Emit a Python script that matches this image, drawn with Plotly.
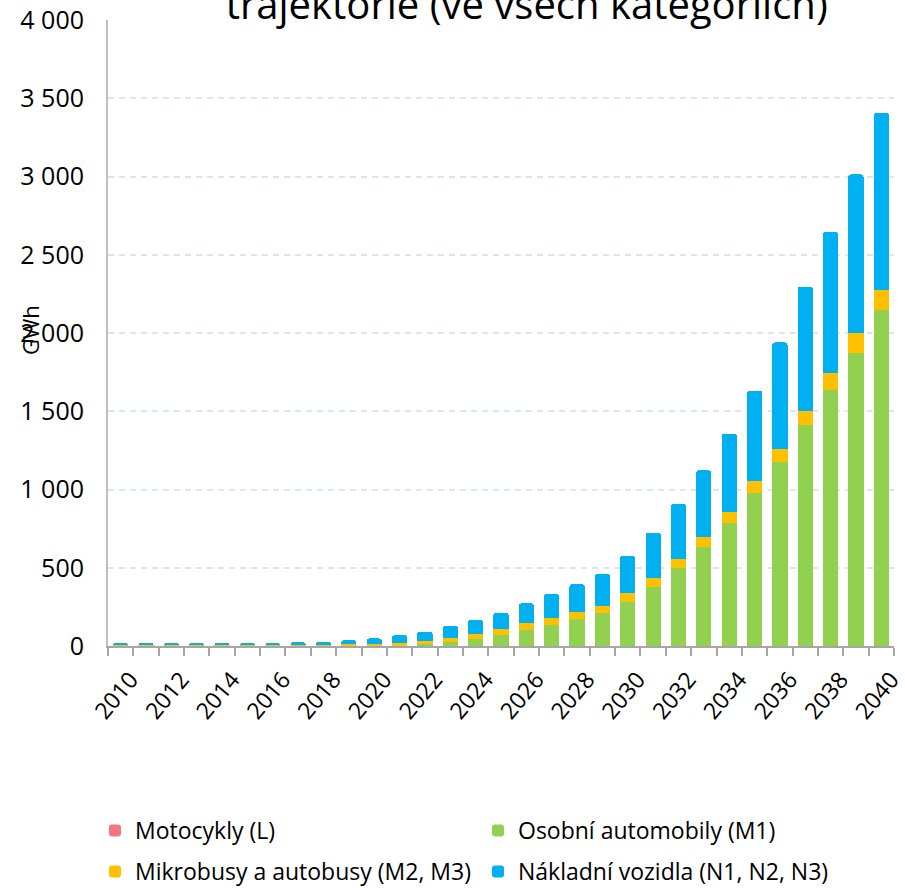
import plotly.graph_objects as go

years = list(range(2010, 2041))

motocykly = [0.1, 0.1, 0.1, 0.1, 0.1, 0.2, 0.2, 0.2, 0.2, 0.3, 0.3, 0.3, 0.4, 0.4, 0.5,
             0.5, 0.6, 0.7, 0.8, 0.9, 1.0, 1.1, 1.2, 1.3, 1.4, 1.5, 1.6, 1.7, 1.8, 1.9, 2.0]
osobni = [3, 3, 3, 3, 3, 3, 3, 4, 4, 5, 6, 5, 12, 28, 45,
          70, 102, 134, 170, 208, 282, 378, 495, 633, 785, 973, 1174, 1408, 1635, 1873, 2145]
mikrobusy = [1, 1, 1, 1, 1, 1, 3, 4, 5, 6, 8, 12, 22, 25, 31,
             36, 43, 42, 49, 49, 54, 55, 59, 63, 71, 78, 85, 95, 108, 125, 127]
nakladni = [14, 14, 14, 14, 14, 14, 13, 17, 17, 25, 34, 51, 57, 74, 90,
            106, 127, 155, 176, 202, 239, 291, 355, 425, 499, 580, 679, 792, 900, 1013, 1133]

y_tick_values = [0, 500, 1000, 1500, 2000, 2500, 3000, 3500, 4000]
y_tick_labels = ["0", "500", "1 000", "1 500", "2 000", "2 500", "3 000", "3 500", "4 000"]
x_tick_years = list(range(2010, 2041, 2))

series = [
    ("Motocykly (L)", motocykly, "#F4777F", "legend"),
    ("Osobní automobily (M1)", osobni, "#92D050", "legend"),
    ("Mikrobusy a autobusy (M2, M3)", mikrobusy, "#FFC000", "legend2"),
    ("Nákladní vozidla (N1, N2, N3)", nakladni, "#00B0F0", "legend2"),
]

FONT = "Open Sans"
W, H = 905, 889

fig = go.Figure()
for name, vals, col, leg in series:
    fig.add_trace(go.Bar(x=years, y=vals, name=name, legend=leg,
                         marker=dict(color=col, line=dict(width=0))))

leg_common = dict(orientation="h", xref="container", yref="container",
                  xanchor="left", yanchor="top", entrywidth=338, entrywidthmode="pixels",
                  font=dict(family=FONT, size=23, color="black"),
                  traceorder="normal", itemclick=False, bgcolor="rgba(0,0,0,0)")

fig.update_layout(
    width=W, height=H,
    barmode="stack", bargap=0.4,
    barcornerradius=3,
    plot_bgcolor="white", paper_bgcolor="white",
    margin=dict(l=108, r=11, t=20, b=243, autoexpand=False),
    font=dict(family=FONT, color="black", size=22),
    title=dict(text="trajektorie (ve všech kategoriích)", x=0.582, xanchor="center",
               xref="container", yref="container", y=1 - 5 / H, yanchor="middle",
               font=dict(family=FONT, size=40, color="black")),
    showlegend=True,
    legend=dict(x=95 / W, y=1 - 809 / H, **leg_common),
    legend2=dict(x=95 / W, y=1 - 850 / H, **leg_common),
    xaxis=dict(range=[2009.5, 2040.5], tickmode="array", tickvals=x_tick_years,
               ticktext=[str(y) for y in x_tick_years], tickangle=-50,
               ticks="", showgrid=False, zeroline=False, automargin=False,
               ticklabelstandoff=9, ticklabelshift=10, ticklabeloverflow="allow",
               showline=True, linecolor="#A6A6A6", linewidth=2,
               tickfont=dict(family=FONT, size=23),
               minor=dict(ticks="outside", tick0=2009.5, dtick=1, ticklen=8,
                          tickcolor="#A6A6A6", tickwidth=2, showgrid=False)),
    yaxis=dict(range=[0, 4000], tickmode="array", tickvals=y_tick_values,
               ticktext=y_tick_labels, ticks="", ticklabelstandoff=17, automargin=False,
               showgrid=True, gridcolor="#DDE6EF", gridwidth=1.5, griddash="6px,5px",
               zeroline=False, showline=True, linecolor="#BFBFBF", linewidth=2,
               tickfont=dict(family=FONT, size=25)),
    annotations=[dict(text="GWh", xref="paper", yref="paper", x=-0.099, y=0.505,
                      xanchor="center", yanchor="middle", textangle=-90, showarrow=False,
                      font=dict(family=FONT, size=22, color="black"))],
)

fig.write_html("out.html", config={"displayModeBar": False},
               post_script="document.body.style.margin='0';")
